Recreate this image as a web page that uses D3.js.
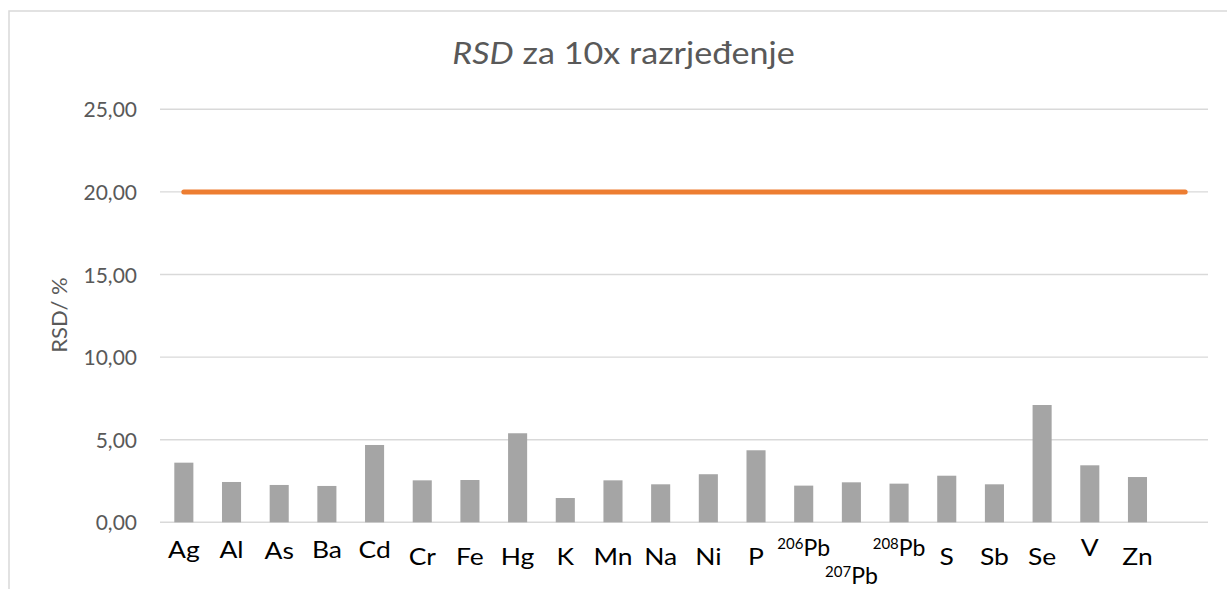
<!DOCTYPE html>
<html>
<head>
<meta charset="utf-8">
<script src="https://cdn.jsdelivr.net/npm/d3@7/dist/d3.min.js"></script>
<style>
  html, body { margin: 0; padding: 0; background: #fff; }
  svg { display: block; }
  text { font-family: Lato, "Open Sans", sans-serif; }
</style>
</head>
<body>
<svg id="chart" width="1227" height="589"></svg>
<script>
// Elements (x categories); the trailing empty slot carries only the limit line
const elements = ["Ag", "Al", "As", "Ba", "Cd", "Cr", "Fe", "Hg", "K", "Mn", "Na",
                  "Ni", "P", "206Pb", "207Pb", "208Pb", "S", "Sb", "Se", "V", "Zn", ""];
// RSD (%) for the 10x dilution
const rsdValues = [3.61, 2.44, 2.26, 2.20, 4.68, 2.54, 2.56, 5.39, 1.47, 2.54, 2.30,
                   2.91, 4.36, 2.22, 2.42, 2.34, 2.82, 2.30, 7.10, 3.45, 2.74];
// Acceptance limit (%)
const limitValues = [20, 20, 20, 20, 20, 20, 20, 20, 20, 20, 20,
                     20, 20, 20, 20, 20, 20, 20, 20, 20, 20, 20];
// Y axis ticks
const yTicks = [0, 5, 10, 15, 20, 25];

// label baselines that differ from the default row
const labelBaseline = { "Ag": 558, "Al": 558, "As": 559, "Ba": 558, "Cd": 558,
                        "206Pb": 556, "207Pb": 584, "208Pb": 556, "V": 556 };

const svg = d3.select("#chart");
const plot = { left: 160, right: 1209, top: 109.3, bottom: 522.3 };

const x = d3.scaleBand()
  .domain(elements.map((d, i) => i))
  .range([plot.left, plot.right])
  .paddingInner(0.6)
  .paddingOuter(0.3);

const y = d3.scaleLinear().domain([0, 25]).range([plot.bottom, plot.top]);

const fmt = d3.formatLocale({ decimal: ",", thousands: ".", grouping: [3], currency: ["", ""] }).format(".2f");

// chart frame
svg.append("rect")
  .attr("x", 9).attr("y", 11)
  .attr("width", 1240).attr("height", 600)
  .attr("fill", "none")
  .attr("stroke", "#d9d9d9")
  .attr("stroke-width", 1.5);

// title
const title = svg.append("text")
  .attr("transform", "translate(623.5,63.5) scale(1.12,1)")
  .attr("text-anchor", "middle")
  .attr("fill", "#595959")
  .attr("font-size", 30.5);
title.append("tspan").attr("font-style", "italic").text("RSD");
title.append("tspan").text(" za 10x razrjeđenje");

// gridlines
svg.append("g")
  .selectAll("line")
  .data(yTicks)
  .join("line")
  .attr("x1", plot.left).attr("x2", plot.right - 1)
  .attr("y1", d => y(d)).attr("y2", d => y(d))
  .attr("stroke", "#d9d9d9")
  .attr("stroke-width", 1.4);

// y axis labels
const yAxis = svg.append("g")
  .attr("transform", `translate(${plot.left - 23},0)`)
  .call(d3.axisLeft(y).tickValues(yTicks).tickFormat(fmt).tickSize(0).tickPadding(0));
yAxis.select(".domain").remove();
yAxis.selectAll("text")
  .attr("fill", "#595959")
  .attr("font-size", 21)
  .attr("font-family", "Lato, 'Open Sans', sans-serif")
  .attr("dy", "0.36em");

// y axis title
svg.append("text")
  .attr("transform", "translate(67,315) rotate(-90)")
  .attr("text-anchor", "middle")
  .attr("fill", "#595959")
  .attr("font-size", 22)
  .text("RSD/ %");

// bars
svg.append("g")
  .selectAll("rect")
  .data(rsdValues)
  .join("rect")
  .attr("x", (d, i) => x(i))
  .attr("width", x.bandwidth())
  .attr("y", d => y(d))
  .attr("height", d => y(0) - y(d))
  .attr("fill", "#a5a5a5");

// limit line
const line = d3.line()
  .x((d, i) => x(i) + x.bandwidth() / 2)
  .y(d => y(d));
svg.append("path")
  .datum(limitValues)
  .attr("d", line)
  .attr("fill", "none")
  .attr("stroke", "#ed7d31")
  .attr("stroke-width", 5)
  .attr("stroke-linecap", "round");

// category labels; isotope mass numbers drawn as superscripts
const labelG = svg.append("g");
elements.forEach((name, i) => {
  if (!name) return;
  const m = name.match(/^(\d+)(.*)$/);
  const cx = x(i) + x.bandwidth() / 2;
  const baseY = labelBaseline[name] !== undefined ? labelBaseline[name] : 565;
  const t = labelG.append("text")
    .attr("transform", `translate(${cx},${baseY}) scale(${m ? 1 : 1.15},1)`)
    .attr("text-anchor", "middle")
    .attr("fill", "#000")
    .attr("font-size", 23);
  if (m) {
    t.append("tspan").attr("font-size", 15).attr("dy", -7).text(m[1]);
    t.append("tspan").attr("dy", 7).text(m[2]);
  } else {
    t.text(name);
  }
});
</script>
</body>
</html>
